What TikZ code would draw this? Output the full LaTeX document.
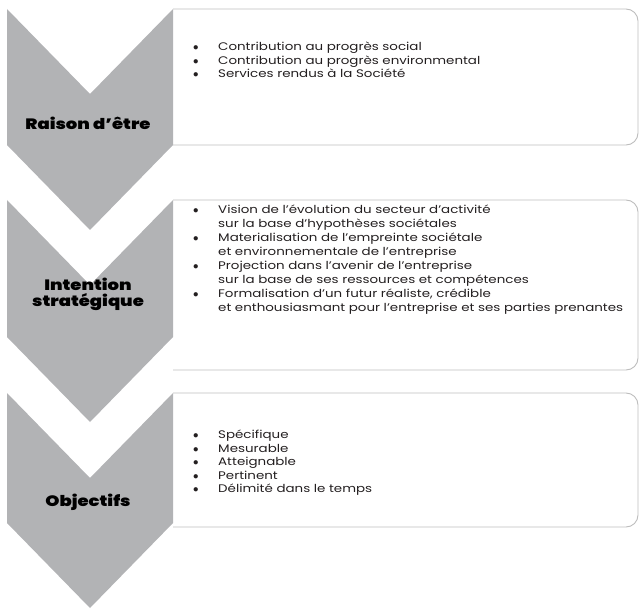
\documentclass[tikz,border=0pt]{standalone}
\usepackage{fontspec}
\setmainfont{Poppins}[FakeStretch=1.22]
\newfontfamily\chevfont{Poppins Black}[FakeStretch=1.2]
\definecolor{chevgrey}{HTML}{B2B3B5}
\definecolor{boxgrey}{HTML}{BDBDBD}
\definecolor{txtgrey}{HTML}{231F20}
\newcommand\bitem{\makebox[25pt][l]{$\bullet$}}
\newcommand\bcont{\hspace*{25pt}}

\begin{document}
\begin{tikzpicture}[x=1pt,y=-1pt]
\useasboundingbox (0,0) rectangle (639,612);
\tikzset{
  bx/.style={draw=boxgrey, line width=0.9pt, rounded corners=12pt},
  lbl/.style={font=\chevfont\fontsize{15}{16}\selectfont, text=black, align=center, inner sep=0pt},
  txt/.style={font=\fontsize{11}{13.5}\selectfont, text=txtgrey, align=left, inner sep=0pt, anchor=west}
}
% box top, box bottom, chevron side end
\newcommand\stage[3]{
  \draw[bx] (173,#1) -- (638,#1) -- (638,#2) -- (173,#2);
  \fill[chevgrey] (7,#1) -- (90,#1+85) -- (173,#1) -- (173,#3) -- (90,#3+85) -- (7,#3) -- cycle;
}
\stage{9}{145}{145}
\stage{200}{370}{337}
\stage{393}{527}{523}

\node[lbl] (raison) at (88,123) {Raison d’être};
\node[lbl] (intention) at (88,294) {Intention\\stratégique};
\node[lbl] (objectifs) at (88,502) {Objectifs};

\node[txt] (traison) at (193,60) {
  \bitem Contribution au progrès social\\
  \bitem Contribution au progrès environmental\\
  \bitem Services rendus à la Société};
\node[txt, font=\fontsize{11}{14}\selectfont] (tintention) at (193,260) {
  \bitem Vision de l’évolution du secteur d’activité\\
  \bcont sur la base d’hypothèses sociétales\\
  \bitem Materialisation de l’empreinte sociétale\\
  \bcont et environnementale de l’entreprise\\
  \bitem Projection dans l’avenir de l’entreprise\\
  \bcont sur la base de ses ressources et compétences\\
  \bitem Formalisation d’un futur réaliste, crédible\\
  \bcont et enthousiasmant pour l’entreprise et ses parties prenantes};
\node[txt] (tobjectifs) at (193,463) {
  \bitem Spécifique\\
  \bitem Mesurable\\
  \bitem Atteignable\\
  \bitem Pertinent\\
  \bitem Délimité dans le temps};
\end{tikzpicture}
\end{document}
